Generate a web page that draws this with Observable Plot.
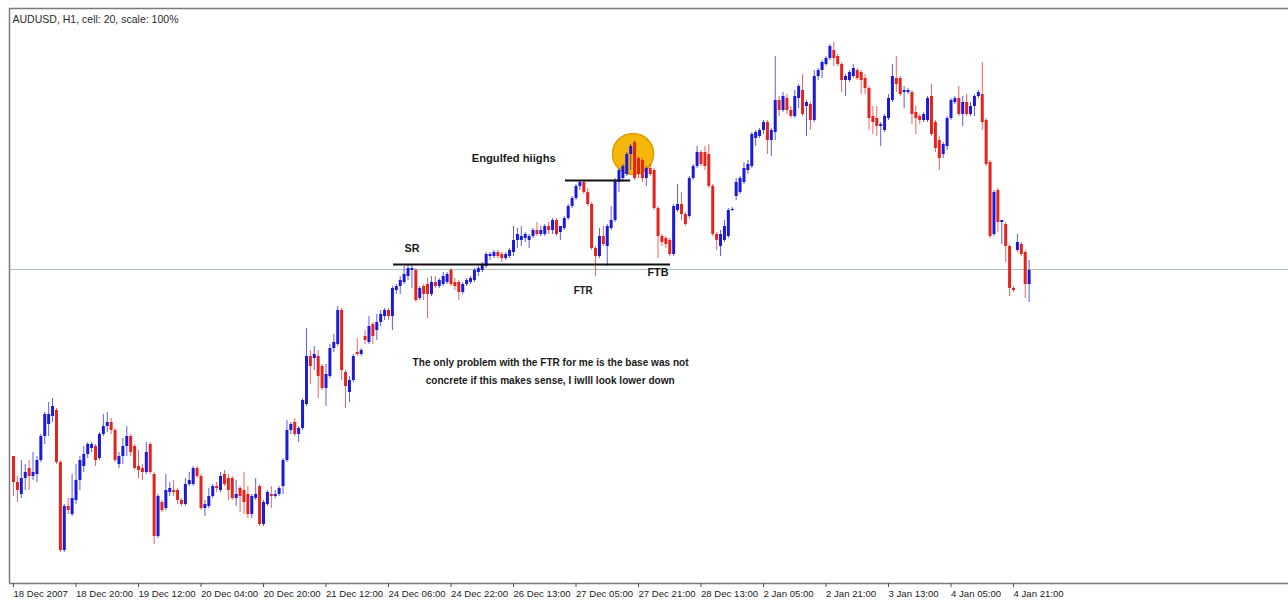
<!DOCTYPE html>
<html>
<head>
<meta charset="utf-8">
<script src="https://cdn.jsdelivr.net/npm/d3@7"></script>
<script src="https://cdn.jsdelivr.net/npm/@observablehq/plot@0.6"></script>
<style>
  html, body { margin: 0; padding: 0; background: #fff; }
  #chart svg { display: block; }
</style>
</head>
<body>
<div id="chart"></div>
<script>
// ---------- DATA ----------
const chartTitle = "AUDUSD, H1, cell: 20, scale: 100%";
const timeLabels = ["18 Dec 2007","18 Dec 20:00","19 Dec 12:00","20 Dec 04:00","20 Dec 20:00","21 Dec 12:00","24 Dec 06:00","24 Dec 22:00","26 Dec 13:00","27 Dec 05:00","27 Dec 21:00","28 Dec 13:00","2 Jan 05:00","2 Jan 21:00","3 Jan 13:00","4 Jan 05:00","4 Jan 21:00"];
const barsPerLabel = 16;

// hourly candles, prices in pips (price x 10 000)
const open = [
8652,8639,8633,8641,8646,8642,8643,8650,8662,8668,
8672,8675,8649,8605,8627,8623,8630,8640,8647,8653,
8656,8657,8651,8663,8667,8669,8665,8648,8652,8657,
8662,8657,8647,8646,8644,8658,8643,8612,8629,8626,
8634,8635,8635,8630,8628,8638,8638,8646,8642,8626,
8627,8632,8637,8635,8643,8641,8641,8631,8636,8635,
8633,8623,8631,8637,8618,8628,8633,8632,8633,8637,
8650,8665,8669,8663,8666,8678,8702,8701,8702,8697,
8686,8692,8706,8708,8725,8694,8684,8690,8704,8703,
8712,8709,8718,8715,8719,8722,8725,8722,8735,8737,
8739,8742,8745,8745,8731,8737,8738,8733,8739,8737,
8738,8739,8745,8739,8739,8734,8738,8739,8740,8744,
8745,8747,8752,8752,8754,8753,8751,8752,8754,8760,
8760,8761,8760,8762,8765,8763,8763,8767,8765,8770,
8764,8766,8771,8777,8781,8787,8789,8784,8778,8756,
8752,8762,8757,8766,8770,8789,8791,8793,8803,8809,
8801,8800,8791,8796,8795,8776,8762,8761,8760,8753,
8775,8778,8773,8772,8791,8797,8804,8804,8803,8787,
8763,8757,8760,8762,8775,8782,8784,8789,8795,8797,
8811,8812,8815,8819,8810,8814,8830,8825,8831,8825,
8822,8831,8835,8827,8828,8820,8842,8845,8848,8851,
8855,8852,8848,8840,8840,8842,8845,8844,8841,8836,
8822,8821,8817,8815,8821,8830,8841,8841,8834,8834,
8834,8824,8822,8820,8820,8832,8819,8810,8803,8807,
8821,8829,8831,8823,8829,8823,8827,8832,8833,8820,
8799,8763,8785,8769,8768,8757,8736,8755,8758,8754,8738];
const high = [
8652,8642,8650,8648,8650,8654,8652,8663,8674,8679,
8681,8676,8650,8628,8631,8643,8648,8652,8657,8659,
8659,8658,8664,8673,8674,8671,8666,8654,8661,8667,
8663,8658,8655,8648,8659,8659,8644,8633,8630,8643,
8639,8640,8636,8631,8641,8644,8647,8647,8643,8630,
8636,8638,8639,8644,8645,8643,8642,8640,8637,8644,
8637,8633,8641,8638,8630,8635,8637,8635,8637,8651,
8670,8669,8671,8667,8681,8716,8705,8707,8705,8698,
8698,8708,8713,8727,8726,8695,8692,8703,8711,8706,
8715,8722,8719,8723,8725,8726,8726,8737,8738,8742,
8747,8748,8748,8746,8737,8738,8741,8742,8742,8741,
8744,8744,8746,8741,8740,8739,8741,8742,8746,8747,
8749,8754,8754,8755,8755,8754,8754,8756,8767,8766,
8767,8764,8763,8766,8769,8767,8768,8769,8771,8771,
8767,8772,8778,8782,8788,8790,8790,8786,8779,8757,
8766,8767,8768,8777,8791,8796,8798,8804,8808,8810,
8802,8801,8797,8798,8796,8777,8763,8762,8761,8778,
8788,8784,8774,8792,8798,8807,8805,8807,8808,8788,
8764,8765,8770,8776,8776.5,8791,8792,8799,8800,8814,
8815,8816,8820,8820,8816,8852,8832,8834,8833,8827,
8835,8838,8843,8830,8829,8845,8846,8850,8852,8858,
8859,8853,8849,8843,8845,8848,8846,8845,8843,8837,
8827,8827,8819,8823,8833,8848,8852,8842,8837,8836,
8835,8827,8823,8824,8832,8838,8820,8812,8809,8822,
8831,8832,8837,8832,8833,8829,8833,8835,8849,8821,
8800,8785,8786,8770,8769,8758,8737,8763,8759,8755,8750];
const low = [
8632,8629,8631,8635,8635,8640,8639,8649,8658,8662,
8669,8648,8604,8604,8623,8622,8628,8635,8644,8651,
8654,8647,8650,8662,8664,8663,8649,8646,8648,8652,
8652,8645,8641,8640,8643,8643,8608,8611,8624,8625,
8632,8632,8628,8627,8627,8637,8637,8641,8625,8622,
8626,8631,8634,8634,8637,8630,8630,8627,8624,8623,
8621,8621,8630,8617,8617,8627,8626,8631,8632,8633,
8649,8663,8662,8659,8665,8677,8688,8695,8681,8685,
8677,8691,8704,8707,8690,8676,8679,8689,8702,8702,
8708,8708,8708,8710,8717,8720,8720,8715,8733,8733,
8738,8740,8736,8729,8730,8730,8721,8732,8736,8736,
8737,8738,8737,8735,8730,8733,8737,8738,8739,8742,
8744,8746,8750,8751,8751,8749,8750,8751,8752,8756,
8757,8759,8756,8761,8762,8762,8762,8763,8763,8762,
8760,8765,8770,8776,8780,8785,8783,8777,8755,8742,
8751,8757,8747,8765,8769,8784,8789,8792,8795,8790,
8791,8789,8787,8792,8775,8751,8757,8756,8752,8752,
8774,8770,8767,8771,8790,8796,8797,8795,8786,8762,
8755,8752,8759,8761,8774.5,8780,8783,8788,8793,8796,
8807,8811,8813,8803,8802,8810,8822,8824,8823,8821,
8821,8826,8822,8812,8815,8819,8840,8841,8847,8850,
8847,8847,8834,8832,8839,8841,8840,8833,8833,8815,
8813,8812,8807,8814,8820,8829,8834,8832,8826,8833,
8818,8813,8818,8819,8819,8812,8804,8795,8801,8805,
8820,8828,8822,8817,8822,8822,8822,8831,8815,8797,
8761,8762,8764,8758,8749,8732,8734,8754,8752,8731,8729];
const close = [
8639,8635,8641,8644,8642,8644,8650,8662,8673,8673,
8677,8649,8605,8627,8625,8631,8640,8650,8653,8658,
8658,8650,8663,8667,8669,8665,8650,8652,8657,8662,
8654,8646,8645,8644,8654,8644,8612,8632,8625,8635,
8636,8634,8630,8628,8638,8640,8646,8642,8626,8628,
8632,8637,8636,8642,8638,8635,8631,8633,8632,8629,
8623,8632,8633,8618,8629,8634,8632,8633,8636,8650,
8665,8668,8663,8666,8680,8702,8697,8703,8692,8686,
8693,8706,8709,8725,8695,8687,8690,8702,8703,8705,
8710,8717,8712,8719,8723,8725,8722,8736,8737,8740,
8743,8746,8746,8730,8736,8733,8733,8739,8737,8740,
8742,8743,8738,8737,8734,8738,8740,8741,8745,8746,
8748,8753,8753,8754,8752,8751,8753,8755,8760,8763,
8762,8763,8762,8765,8763,8765,8767,8765,8770,8763,
8767,8771,8777,8781,8787,8789,8784,8778,8756,8752,
8762,8758,8767,8770,8790,8795,8797,8803,8807,8791,
8793,8791,8796,8793,8776,8762,8759,8758,8753,8777,
8778,8773,8768,8791,8797,8804,8798,8797,8787,8763,
8760,8763,8767,8775,8775.5,8789,8791,8796,8798,8813,
8814,8815,8819,8810,8815,8830,8825,8832,8825,8822,
8832,8837,8823,8829,8820,8842,8845,8849,8851,8857,
8851,8848,8840,8842,8844,8846,8841,8840,8836,8821,
8819,8817,8818,8822,8831,8842,8838,8833,8835,8835,
8823,8821,8820,8823,8831,8813,8806,8801,8808,8821,
8830,8831,8823,8829,8823,8827,8832,8834,8819,8798,
8762,8784,8769,8770,8757,8736,8735,8759,8753,8738,8745];

// current bid level (pips)
const bidLevel = 8745.5;

// hand-drawn annotations (bar index / pips)
const lineNames = ["SR", "Engulfed highs"];
const lineFromBar = [97.3, 141.3];
const lineToBar = [168.2, 158.0];
const linePrice = [8748, 8790];

const circleBar = [158.6];
const circlePrice = [8803.3];

const noteText = ["SR", "Engulfed hiighs", "FTR", "FTB",
  "The only problem with the FTR for me is the base was not",
  "concrete if this makes sense, I iwlll look lower down"];
const noteBar = [100.1, 117.3, 143.4, 162.3, 137.5, 137.4];
const notePrice = [8756, 8801, 8735, 8744, 8699, 8690];

// ---------- LAYOUT / STYLE ----------
const upColor = "#1a1ad8";
const downColor = "#e3231c";
const noteAnchor = ["start", "start", "start", "start", "middle", "middle"];
const noteWidth = [15, 84, 19, 21, 276, 249];
const xDomain = [-1.024, 326.4];
const yDomain = [8588.5 / 1e4, 8876 / 1e4];

// ---------- TABLES ----------
const P = v => v / 1e4;
const bars = open.map((o, i) => ({
  i, open: P(o), high: P(high[i]), low: P(low[i]), close: P(close[i]),
  color: close[i] >= o ? upColor : downColor
}));
const lines = lineNames.map((n, k) => ({ x1: lineFromBar[k], x2: lineToBar[k], y: P(linePrice[k]) }));
const circles = circleBar.map((b, k) => ({ x: b, y: P(circlePrice[k]) }));
const notes = noteText.map((t, k) => ({ t, x: noteBar[k], y: P(notePrice[k]), a: noteAnchor[k], w: noteWidth[k] }));
const tickBars = timeLabels.map((_, k) => k * barsPerLabel);

const font = "'Liberation Sans', Arial, sans-serif";
const textMarks = ["start", "middle"].map(a =>
  Plot.text(notes.filter(d => d.a === a), {
    x: "x", y: "y", text: "t", textAnchor: a, fontFamily: font,
    fontSize: 11, fontWeight: "bold", fill: "#1a1a1a"
  }));

const chart = Plot.plot({
  width: 1288, height: 600,
  marginLeft: 9, marginRight: 0, marginTop: 8, marginBottom: 17,
  style: { fontFamily: font, background: "#fff", overflow: "visible" },
  x: { type: "linear", domain: xDomain, axis: null },
  y: { domain: yDomain, axis: null },
  color: { type: "identity" },
  marks: [
    Plot.ruleY([P(bidLevel)], { stroke: "#a9c6c0", strokeWidth: 1 }),
    Plot.dot(circles, { x: "x", y: "y", r: 20.5, fill: "#f6b70c", stroke: "#e39a00", strokeWidth: 1.5 }),
    Plot.ruleX(bars, { x: "i", y1: "low", y2: "high", stroke: "color", strokeWidth: 1, strokeOpacity: 0.7 }),
    Plot.ruleX(bars, { x: "i", y1: "open", y2: "close", stroke: "color", strokeWidth: 3 }),
    Plot.ruleY(lines, { y: "y", x1: "x1", x2: "x2", stroke: "#111", strokeWidth: 2 }),
    ...textMarks,
    Plot.ruleY([yDomain[1]], { stroke: "#7a7a7a", strokeWidth: 1.5 }),
    Plot.ruleY([yDomain[0]], { stroke: "#7a7a7a", strokeWidth: 1.5 }),
    Plot.ruleX([xDomain[0]], { stroke: "#7a7a7a", strokeWidth: 1.5 }),
    Plot.axisX({
      ticks: tickBars,
      tickFormat: d => timeLabels[Math.round(d / barsPerLabel)],
      tickSize: 4, tickPadding: 3, textAnchor: "start",
      fontSize: 9.6, fill: "#222", stroke: "#555", anchor: "bottom"
    }),
    Plot.text([chartTitle], {
      frameAnchor: "top-left", text: d => d, dx: 3, dy: 11, lineAnchor: "middle",
      textAnchor: "start", fontSize: 10.5, fill: "#2a2a2a", fontFamily: font
    })
  ]
});

document.getElementById("chart").append(chart);

// fit annotation text widths to the hand-written lettering
const fitWidth = new Map(notes.map(d => [d.t, d.w]));
fitWidth.set(chartTitle, 166);
d3.select(chart).selectAll("text").each(function () {
  const w = fitWidth.get(this.textContent);
  if (w) {
    this.setAttribute("textLength", w);
    this.setAttribute("lengthAdjust", "spacingAndGlyphs");
  }
});
</script>
</body>
</html>
